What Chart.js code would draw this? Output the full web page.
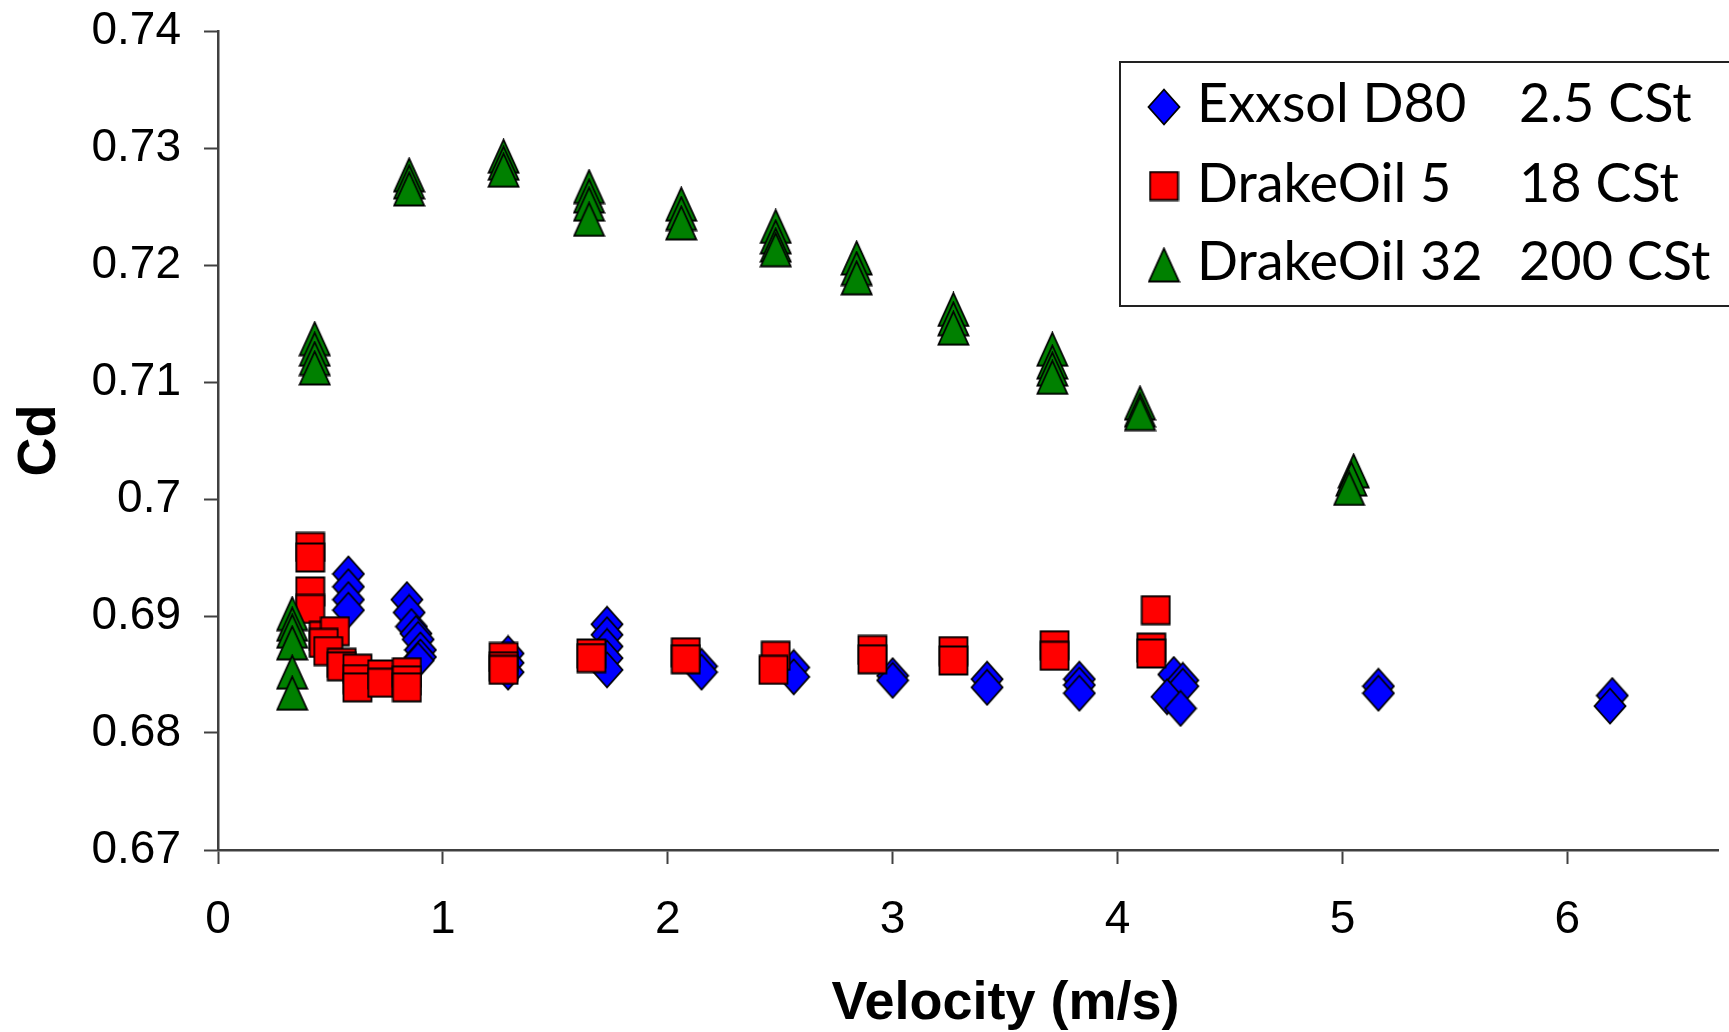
<!DOCTYPE html>
<html>
<head>
<meta charset="utf-8">
<script src="https://cdn.jsdelivr.net/npm/chart.js@4.4.1/dist/chart.umd.min.js"></script>
<style>
html,body{margin:0;padding:0;background:#fff;overflow:hidden}
#wrap{position:relative;width:1729px;height:1032px}
</style>
</head>
<body>
<div id="wrap"><canvas id="c"></canvas></div>
<script>
// ---- data ----
const seriesNames = ['Exxsol D80', 'DrakeOil 5', 'DrakeOil 32'];
const seriesVisc = ['2.5 CSt', '18 CSt', '200 CSt'];
const xTicks = [0, 1, 2, 3, 4, 5, 6];
const yTicks = [0.67, 0.68, 0.69, 0.70, 0.71, 0.72, 0.73, 0.74];
const xTitle = 'Velocity (m/s)';
const yTitle = 'Cd';

const exxsolX = [0.58, 0.58, 0.58, 0.58, 0.84, 0.85, 0.86, 0.88, 0.89, 0.90, 0.90, 0.89,
  1.29, 1.29, 1.29, 1.73, 1.73, 1.73, 1.73, 1.73, 2.15, 2.15, 2.56, 2.56, 3.00, 3.00,
  3.42, 3.42, 3.83, 3.83, 3.83, 4.25, 4.29, 4.29, 4.22, 4.28, 5.16, 5.16, 6.20, 6.19];
const exxsolY = [0.6936, 0.6925, 0.6914, 0.6905, 0.6914, 0.6903, 0.6891, 0.6885, 0.6880, 0.6871, 0.6865, 0.6862,
  0.6868, 0.6860, 0.6852, 0.6893, 0.6884, 0.6874, 0.6864, 0.6854, 0.6857, 0.6852, 0.6856, 0.6848, 0.6849, 0.6845,
  0.6846, 0.6839, 0.6846, 0.6841, 0.6834, 0.6850, 0.6845, 0.6840, 0.6831, 0.6821, 0.6840, 0.6834, 0.6832, 0.6823];

const drake5X = [0.41, 0.41, 0.41, 0.41, 0.47, 0.52, 0.47, 0.49, 0.55, 0.55, 0.62, 0.62, 0.62,
  0.73, 0.73, 0.84, 0.84, 0.84, 1.27, 1.27, 1.27, 1.66, 1.66, 2.08, 2.08, 2.48, 2.47,
  2.91, 2.91, 3.27, 3.27, 3.72, 3.72, 4.17, 4.15, 4.15];
const drake5Y = [0.6959, 0.6950, 0.6921, 0.6906, 0.6883, 0.6887, 0.6877, 0.6870, 0.6860, 0.6857, 0.6855, 0.6846, 0.6839,
  0.6850, 0.6843, 0.6852, 0.6845, 0.6839, 0.6865, 0.6857, 0.6854, 0.6868, 0.6864, 0.6869, 0.6863, 0.6866, 0.6854,
  0.6871, 0.6863, 0.6870, 0.6862, 0.6875, 0.6866, 0.6905, 0.6873, 0.6868];

const drake32X = [0.33, 0.33, 0.33, 0.33, 0.33, 0.33, 0.43, 0.43, 0.43, 0.43, 0.85, 0.85, 0.85,
  1.27, 1.27, 1.27, 1.65, 1.65, 1.65, 1.65, 2.06, 2.06, 2.06, 2.48, 2.48, 2.48, 2.48,
  2.84, 2.84, 2.84, 3.27, 3.27, 3.27, 3.71, 3.71, 3.71, 3.71, 4.10, 4.10, 4.10, 5.05, 5.04, 5.03];
const drake32Y = [0.6902, 0.6893, 0.6887, 0.6877, 0.6852, 0.6834, 0.7137, 0.7128, 0.7120, 0.7112, 0.7277, 0.7271, 0.7265,
  0.7293, 0.7287, 0.7281, 0.7267, 0.7259, 0.7252, 0.7239, 0.7252, 0.7244, 0.7236, 0.7233, 0.7224, 0.7217, 0.7213,
  0.7206, 0.7197, 0.7189, 0.7162, 0.7154, 0.7146, 0.7128, 0.7117, 0.7111, 0.7104, 0.7082, 0.7076, 0.7073, 0.7024, 0.7017, 0.7009];

// ---- styling helpers ----
function marker(shape, w, h, fill) {
  const c = document.createElement('canvas');
  c.width = w + 3; c.height = h + 3;
  const g = c.getContext('2d');
  const cx = c.width / 2, cy = c.height / 2, hw = w / 2, hh = h / 2;
  g.beginPath();
  if (shape === 'diamond') {
    g.moveTo(cx, cy - hh); g.lineTo(cx + hw, cy); g.lineTo(cx, cy + hh); g.lineTo(cx - hw, cy);
  } else if (shape === 'square') {
    g.rect(cx - hw, cy - hh, w, h);
  } else {
    g.moveTo(cx, cy - hh); g.lineTo(cx + hw, cy + hh); g.lineTo(cx - hw, cy + hh);
  }
  g.closePath();
  g.fillStyle = fill; g.fill();
  g.lineWidth = 1.8; g.strokeStyle = '#000'; g.lineJoin = 'miter'; g.stroke();
  return c;
}
const markers = [
  marker('diamond', 31, 35, '#0000ff'),
  marker('square', 28, 28, '#ff0000'),
  marker('triangle', 30, 33, '#008000')
];
const pts = (xs, ys) => xs.map((x, i) => ({ x: x, y: ys[i] }));

const boxLegend = {
  id: 'boxLegend',
  afterDraw(chart) {
    const ctx = chart.ctx;
    ctx.save();
    ctx.fillStyle = '#fff';
    ctx.fillRect(1120, 62, 700, 244);
    ctx.lineWidth = 2; ctx.strokeStyle = '#222';
    ctx.strokeRect(1120, 62, 700, 244);
    const rowsMarker = [107, 186, 265];
    const rowsBase = [122, 202, 280];
    ctx.font = '54px Lato';
    ctx.fillStyle = '#000';
    ctx.textBaseline = 'alphabetic';
    ctx.textAlign = 'left';
    for (let i = 0; i < seriesNames.length; i++) {
      const m = markers[i];
      ctx.drawImage(m, 1164 - m.width / 2, rowsMarker[i] - m.height / 2);
      ctx.fillText(seriesNames[i], 1197, rowsBase[i]);
      ctx.fillText(seriesVisc[i], 1519, rowsBase[i]);
    }
    ctx.restore();
  }
};

const axisColor = '#404040';
new Chart(document.getElementById('c'), {
  type: 'scatter',
  data: {
    datasets: [
      { label: seriesNames[0], data: pts(exxsolX, exxsolY), pointStyle: markers[0], pointRadius: 10, order: 3 },
      { label: seriesNames[1], data: pts(drake5X, drake5Y), pointStyle: markers[1], pointRadius: 10, order: 2 },
      { label: seriesNames[2], data: pts(drake32X, drake32Y), pointStyle: markers[2], pointRadius: 10, order: 1 }
    ]
  },
  options: {
    responsive: true,
    maintainAspectRatio: false,
    animation: false,
    events: [],
    layout: { padding: { left: 0, top: 31, right: 11, bottom: 0 } },
    plugins: { legend: { display: false }, tooltip: { enabled: false } },
    scales: {
      x: {
        type: 'linear', min: 0, max: 6.67, bounds: 'data',
        afterBuildTicks: s => { s.ticks = xTicks.map(v => ({ value: v })); },
        afterFit: s => { s.height = 182; s.paddingLeft = 0; s.paddingRight = 0; },
        grid: { display: true, drawOnChartArea: false, drawTicks: true, tickLength: 14, tickWidth: 2, tickColor: axisColor, color: axisColor },
        border: { display: true, color: axisColor, width: 2.5 },
        ticks: { font: { family: 'Liberation Sans', size: 46 }, color: '#000', padding: 29, maxRotation: 0, autoSkip: false, callback: v => String(v) },
        title: { display: true, text: '     ' + xTitle, color: '#000', font: { family: 'Liberation Sans', size: 54, weight: 'bold', lineHeight: 1 }, padding: { top: 0, bottom: 1 } }
      },
      y: {
        type: 'linear', min: 0.67, max: 0.74, bounds: 'data',
        afterBuildTicks: s => { s.ticks = yTicks.map(v => ({ value: v })); },
        afterFit: s => { s.width = 218; s.paddingTop = 0; s.paddingBottom = 0; },
        grid: { display: true, drawOnChartArea: false, drawTicks: true, tickLength: 14, tickWidth: 2, tickColor: axisColor, color: axisColor },
        border: { display: true, color: axisColor, width: 2.5 },
        ticks: { font: { family: 'Liberation Sans', size: 46 }, color: '#000', padding: 23, autoSkip: false, callback: v => String(+(+v).toFixed(2)) },
        title: { display: true, text: yTitle, color: '#000', font: { family: 'Liberation Sans', size: 54, weight: 'bold', lineHeight: 1 }, padding: { top: 13, bottom: 0 } }
      }
    }
  },
  plugins: [boxLegend]
});
</script>
</body>
</html>
